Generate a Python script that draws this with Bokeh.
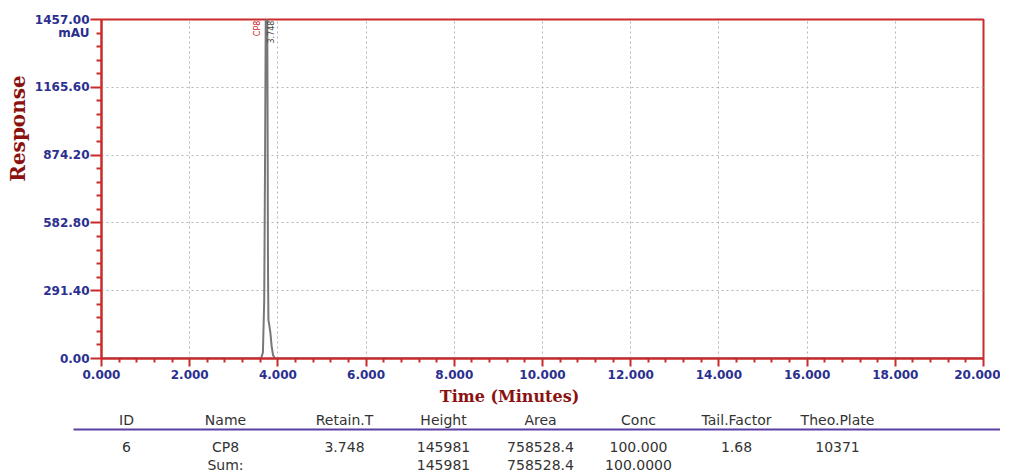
import numpy as np
from bokeh.plotting import figure
from bokeh.models import Range1d, FixedTicker, NumeralTickFormatter, Label, ColumnDataSource
from bokeh.layouts import column, row
from bokeh.embed import file_html
from bokeh.resources import INLINE
from bokeh.core.properties import value

# ---------------- data ----------------
time_min = [0.0, 3.50, 3.62, 3.66, 3.69, 3.71, 3.725, 3.74, 3.748, 3.755, 3.765,
            3.775, 3.785, 3.80, 3.83, 3.86, 3.89, 3.92, 3.95, 20.0]
response = [0, 0, 2, 25, 250, 900, 1500, 1750, 1800, 1750, 1100,
            400, 165, 150, 110, 50, 15, 4, 0, 0]

x_ticks = [0, 2, 4, 6, 8, 10, 12, 14, 16, 18, 20]
y_ticks = [0.00, 291.40, 582.80, 874.20, 1165.60, 1457.00]
y_unit = "mAU"
x_title = "Time (Minutes)"
y_title = "Response"

peak_name = "CP8"
peak_rt = "3.748"

headers = ["ID", "Name", "Retain.T", "Height", "Area", "Conc", "Tail.Factor", "Theo.Plate"]
row1 = ["6", "CP8", "3.748", "145981", "758528.4", "100.000", "1.68", "10371"]
row2 = ["", "Sum:", "", "145981", "758528.4", "100.0000", "", ""]

# ---------------- styles / layout ----------------
RED = "#cc2b2b"
NAVY = "#2b2f8f"
DARKRED = "#8b1111"
W = 1000          # total width
LW = 31           # left strip (y title)
H1 = 386          # chart height
H2 = 87           # x title + table
FRAME_L, FRAME_R, FRAME_T, FRAME_B = 101, 983, 19, 358

minor_x = [float(v) for a, b in zip(x_ticks[:-1], x_ticks[1:]) for v in np.linspace(a, b, 6)[1:-1]]
minor_y = [float(v) for a, b in zip(y_ticks[:-1], y_ticks[1:]) for v in np.linspace(a, b, 6)[1:-1]]

# ---- left strip with the y title
lf = figure(width=LW, height=H1, x_range=Range1d(0, LW), y_range=Range1d(0, H1),
            output_backend="svg", toolbar_location=None, x_axis_type=None, y_axis_type=None,
            min_border_left=0, min_border_right=0, min_border_top=0, min_border_bottom=0)
lf.frame_align = False
lf.outline_line_color = None
lf.grid.visible = False
lf.text(x=[17], y=[H1 - 128], text=[y_title], angle=np.pi / 2, text_align="center",
        text_baseline="middle", text_color=DARKRED, text_font=value("DejaVu Serif"),
        text_font_style="bold", text_font_size="20px")

# ---- main chart
p = figure(width=W - LW, height=H1, x_range=Range1d(0, 20), y_range=Range1d(0, 1457.0),
           output_backend="svg", toolbar_location=None,
           min_border_left=FRAME_L - LW, min_border_right=W - FRAME_R,
           min_border_top=FRAME_T, min_border_bottom=H1 - FRAME_B)
p.frame_align = False
p.background_fill_color = "white"
p.border_fill_color = "white"
p.outline_line_color = RED
p.outline_line_width = 2

p.xaxis.ticker = FixedTicker(ticks=x_ticks, minor_ticks=minor_x)
p.yaxis.ticker = FixedTicker(ticks=y_ticks, minor_ticks=minor_y)
p.xaxis.formatter = NumeralTickFormatter(format="0.000")
p.yaxis.formatter = NumeralTickFormatter(format="0.00")
p.yaxis.major_label_overrides = {y_ticks[-1]: f"\n{y_ticks[-1]:.2f}\n{y_unit}"}
for ax in (p.xaxis, p.yaxis):
    ax.axis_line_color = RED
    ax.axis_line_width = 2
    ax.major_tick_line_color = RED
    ax.major_tick_line_width = 2
    ax.minor_tick_line_color = RED
    ax.minor_tick_line_width = 2
    ax.major_tick_in = 0
    ax.minor_tick_in = 0
    ax.major_label_text_color = NAVY
    ax.major_label_text_font = "DejaVu Sans"
    ax.major_label_text_font_style = "bold"
    ax.major_label_text_font_size = "12px"
p.yaxis.major_tick_out = 11
p.yaxis.minor_tick_out = 5
p.yaxis.major_label_standoff = 1
p.yaxis.major_label_text_line_height = 0.9
p.xaxis.major_tick_out = 8
p.xaxis.minor_tick_out = 4
p.xaxis.major_label_standoff = 3

for g in (p.xgrid, p.ygrid):
    g.grid_line_color = "#b5b5b5"
    g.grid_line_dash = "2 3"
    g.grid_line_width = 1

src = ColumnDataSource(dict(t=time_min, r=response))
p.line("t", "r", source=src, line_color="#777777", line_width=2)

p.add_layout(Label(x=3.54, y=1452, text=peak_name, angle=np.pi / 2, text_align="right",
                   text_baseline="middle", text_color="#cc2222",
                   text_font="DejaVu Sans", text_font_size="8px"))
p.add_layout(Label(x=3.83, y=1452, text=peak_rt, angle=np.pi / 2, text_align="right",
                   text_baseline="middle", text_color="#444444",
                   text_font="DejaVu Sans", text_font_size="8px"))

# ---- x title + peak table
t = figure(width=W, height=H2, x_range=Range1d(0, W), y_range=Range1d(H1 + H2, H1),
           output_backend="svg", toolbar_location=None, x_axis_type=None, y_axis_type=None,
           min_border_left=0, min_border_right=0, min_border_top=0, min_border_bottom=0)
t.frame_align = False
t.outline_line_color = None
t.grid.visible = False

t.text(x=[509], y=[396], text=[x_title], text_align="center", text_baseline="middle",
       text_color=DARKRED, text_font=value("DejaVu Serif"), text_font_style="bold",
       text_font_size="16px")

col_x = [126, 225, 344, 443, 540, 638, 736, 837]
common = dict(text_align="center", text_baseline="middle", text_font=value("DejaVu Sans"),
              text_font_size="14px", text_color="#333333")
t.text(x=col_x, y=[419.5] * len(headers), text=headers, **common)
t.text(x=col_x, y=[446] * len(row1), text=row1, **common)
t.text(x=col_x, y=[464.5] * len(row2), text=row2, **common)
t.line(x=[73, W], y=[429, 429], line_color="#5b3fa3", line_width=2)

layout = column(row(lf, p, spacing=0), t, spacing=0)
open("out.html", "w").write(file_html(layout, INLINE))
